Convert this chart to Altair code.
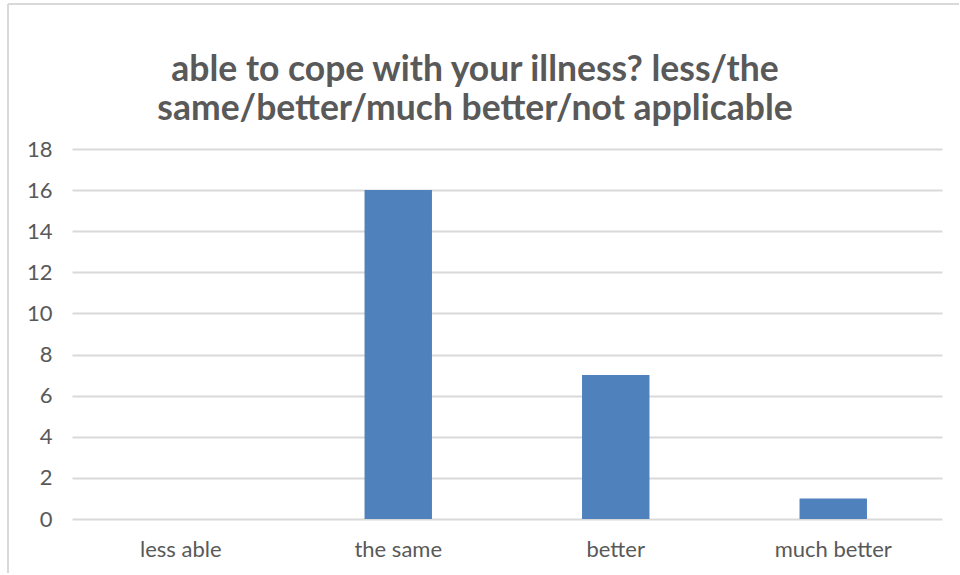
import altair as alt
import pandas as pd

# Survey responses
categories = ["less able", "the same", "better", "much better"]
counts = [0, 16, 7, 1]

title_lines = [
    "able to cope with your illness? less/the",
    "same/better/much better/not applicable",
]
y_ticks = [0, 2, 4, 6, 8, 10, 12, 14, 16, 18]

df = pd.DataFrame({"response": categories, "count": counts})

FONT = "Lato"
GREY_TEXT = "#595959"
GRID = "#d9d9d9"
BAR = "#4f81bd"

PLOT_W = 870
PLOT_H = 370

bars = alt.Chart(df).mark_bar(color=BAR).encode(
    x=alt.X(
        "response:N",
        sort=categories,
        scale=alt.Scale(paddingInner=0.69, paddingOuter=0.345),
        axis=alt.Axis(
            title=None,
            labelAngle=0,
            labelFont=FONT,
            labelFontSize=22,
            labelColor=GREY_TEXT,
            labelPadding=20,
            domain=False,
            ticks=False,
        ),
    ),
    y=alt.Y(
        "count:Q",
        scale=alt.Scale(domain=[0, 18], nice=False),
        axis=alt.Axis(
            title=None,
            values=y_ticks,
            labelFont=FONT,
            labelFontSize=22,
            labelColor=GREY_TEXT,
            labelPadding=20,
            domain=False,
            ticks=False,
            grid=True,
            gridColor=GRID,
            gridWidth=2,
        ),
    ),
)

# Light frame around the whole chart area (left and top edges)
frame_data = alt.Data(values=[{}])
frame_left = alt.Chart(frame_data).mark_rule(color=GRID, strokeWidth=2).encode(
    x=alt.value(-64), y=alt.value(-145), y2=alt.value(424)
)
frame_top = alt.Chart(frame_data).mark_rule(color=GRID, strokeWidth=2).encode(
    x=alt.value(-64), x2=alt.value(887), y=alt.value(-145)
)

chart = (
    alt.layer(frame_left, frame_top, bars)
    .properties(
        width=PLOT_W,
        height=PLOT_H,
        background="white",
        padding={"left": 7, "top": 3, "right": 0, "bottom": 0},
        title=alt.TitleParams(
            text=title_lines,
            font=FONT,
            fontSize=35.5,
            fontWeight="bold",
            color=GREY_TEXT,
            anchor="middle",
            frame="group",
            dx=-32,
            lineHeight=39,
            offset=-124,
        ),
    )
    .configure_view(stroke="transparent", strokeWidth=0)
)

chart.save("out.html", embed_options={"renderer": "svg", "actions": False})
